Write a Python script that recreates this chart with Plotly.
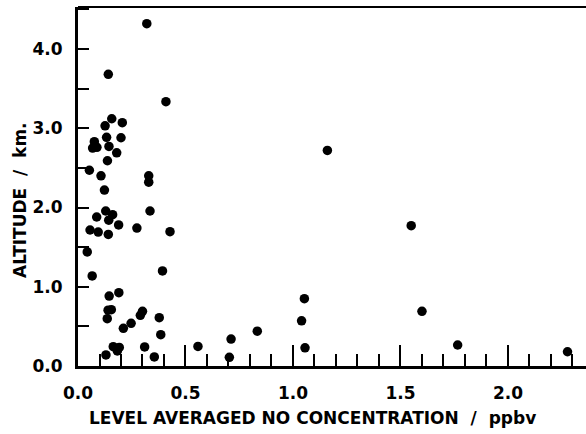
import plotly.graph_objects as go

no_ppbv = [0.32, 0.141, 0.409, 0.157, 0.126, 0.206, 0.133, 0.200, 0.076, 0.068,
           0.088, 0.144, 0.18, 0.137, 0.053, 0.107, 0.329, 0.329, 0.123, 0.335,
           0.129, 0.087, 0.161, 0.143, 0.189, 0.056, 0.094, 0.141, 0.274, 0.428,
           0.043, 0.066, 0.393, 0.19, 0.145, 0.14, 0.155, 0.136, 0.211, 0.247,
           0.29, 0.30, 0.378, 0.385, 0.13, 0.164, 0.192, 0.183, 0.31, 0.355,
           0.558, 0.712, 0.704, 0.834, 1.04, 1.053, 1.056, 1.16, 1.55, 1.60,
           1.766, 2.277]
altitude_km = [4.32, 3.68, 3.335, 3.12, 3.03, 3.07, 2.886, 2.88, 2.83, 2.75,
               2.76, 2.77, 2.69, 2.59, 2.47, 2.40, 2.40, 2.32, 2.22, 1.956,
               1.956, 1.88, 1.91, 1.84, 1.78, 1.716, 1.69, 1.66, 1.74, 1.695,
               1.44, 1.136, 1.20, 0.925, 0.883, 0.705, 0.71, 0.597, 0.475, 0.538,
               0.64, 0.69, 0.61, 0.395, 0.139, 0.244, 0.235, 0.19, 0.24, 0.114,
               0.247, 0.34, 0.11, 0.44, 0.57, 0.85, 0.23, 2.72, 1.77, 0.69,
               0.265, 0.18]

W, H = 586, 434
ml, mr, mt, mb = 78, 0, 7, 68

fig = go.Figure()
fig.add_trace(go.Scatter(x=no_ppbv, y=altitude_km, mode="markers",
                         marker=dict(color="black", size=9.5, line=dict(width=0)),
                         showlegend=False, cliponaxis=False))

font = dict(family="DejaVu Sans", size=17, color="black", weight="bold")

fig.update_layout(
    width=W, height=H,
    margin=dict(l=ml, r=mr, t=mt, b=mb, pad=0),
    paper_bgcolor="white", plot_bgcolor="white",
    font=font,
    xaxis=dict(range=[0, 2.363], showgrid=False, zeroline=False,
               showline=True, linewidth=3, linecolor="black",
               ticks="inside", tickmode="linear", tick0=0, dtick=0.5,
               ticklen=21, tickwidth=2, tickcolor="black", tickformat=".1f",
               ticklabelstandoff=10,
               minor=dict(ticks="inside", dtick=0.1, tick0=0, ticklen=12,
                          tickwidth=2, tickcolor="black", showgrid=False)),
    yaxis=dict(range=[0, 4.53], showgrid=False, zeroline=False,
               showline=True, linewidth=3, linecolor="black",
               ticks="inside", tickmode="linear", tick0=0, dtick=1,
               ticklen=11, tickwidth=2, tickcolor="black", tickformat=".1f",
               ticklabelstandoff=9,
               minor=dict(ticks="inside", dtick=0.5, tick0=0, ticklen=11,
                          tickwidth=2, tickcolor="black", showgrid=False)),
    shapes=[dict(type="line", xref="paper", yref="paper", x0=0, x1=1, y0=1, y1=1,
                 line=dict(color="black", width=2))],
    annotations=[
        dict(text="LEVEL AVERAGED NO CONCENTRATION  /  ppbv", xref="paper", yref="paper",
             x=(312 - ml) / (W - ml - mr), y=-(418 - (H - mb)) / (H - mt - mb),
             xanchor="center", yanchor="middle", showarrow=False, font=font),
        dict(text="ALTITUDE  /  km.", xref="paper", yref="paper", textangle=-90,
             x=-(ml - 20) / (W - ml - mr), y=1 - (200 - mt) / (H - mt - mb),
             xanchor="center", yanchor="middle", showarrow=False, font=font),
    ],
)

fig.write_html("out.html")
